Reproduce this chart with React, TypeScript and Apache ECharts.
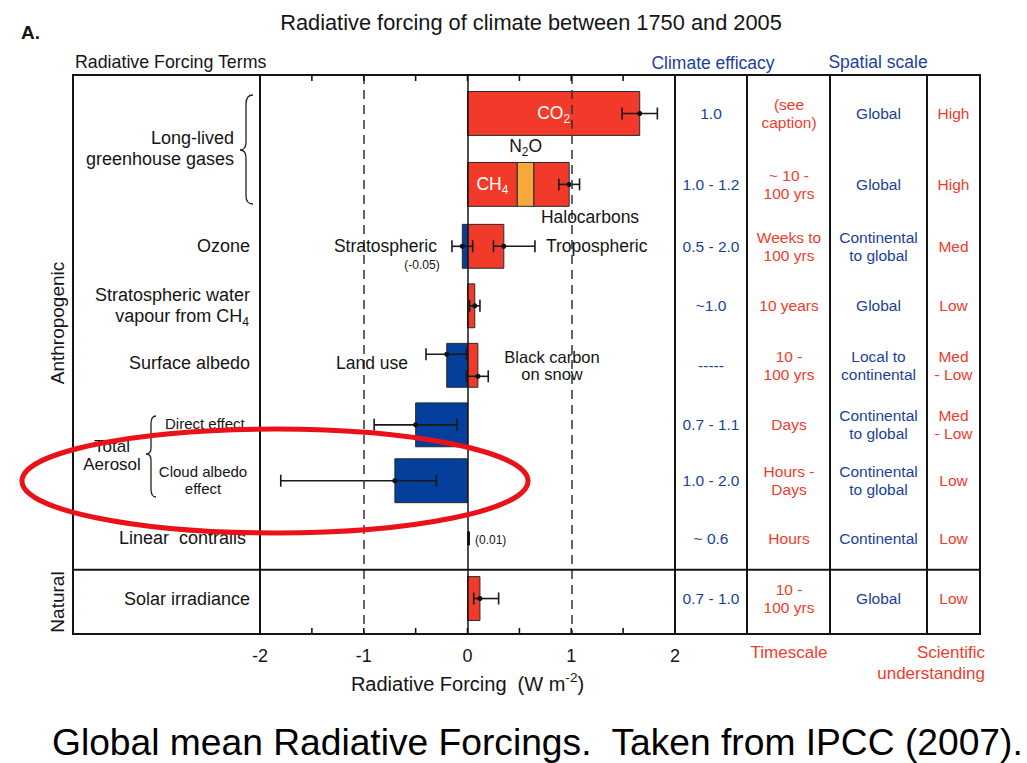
import React, { useEffect, useRef } from "react";
import * as echarts from "echarts";

const FONT = '"Liberation Sans", Arial, Helvetica, sans-serif';

// ---- data ----
const rowNames = [
  "CO2",
  "CH4 / N2O / Halocarbons",
  "Ozone",
  "Stratospheric water vapour from CH4",
  "Surface albedo",
  "Aerosol direct effect",
  "Cloud albedo effect",
  "Linear contrails",
  "Solar irradiance",
];
// position of each row on the (hidden, inverted) vertical axis
const rowPosition = [0.64, 1.82, 2.85, 3.84, 4.83, 5.82, 6.75, 7.71, 8.71];
const naturalBoundary = 8.23;

const components = [
  "CO2", "CH4", "N2O", "Halocarbons", "Stratospheric ozone", "Tropospheric ozone",
  "Stratospheric water vapour", "Land use", "Black carbon on snow",
  "Direct effect", "Cloud albedo effect", "Linear contrails", "Solar irradiance",
];
const componentRow = [0, 1, 1, 1, 2, 2, 3, 4, 4, 5, 6, 7, 8];
const barFrom = [0, 0, 0.48, 0.64, 0, 0, 0, 0, 0, 0, 0, 0, 0];
const barTo = [1.66, 0.48, 0.64, 0.98, -0.05, 0.35, 0.07, -0.2, 0.1, -0.5, -0.7, 0.01, 0.12];
const errLow: (number | null)[] = [1.49, null, null, 0.88, -0.15, 0.25, 0.02, -0.4, -0.01, -0.9, -1.8, null, 0.06];
const errHigh: (number | null)[] = [1.83, null, null, 1.08, 0.05, 0.65, 0.12, -0.01, 0.2, -0.1, -0.3, null, 0.3];
const errLane = [0, 0, 0, 0, 0, 0, 0, -1, 1, 0, 0, 0, 0];
const barKind = ["warm", "warm", "n2o", "warm", "cool", "warm", "warm", "cool", "warm", "cool", "cool", "thin", "warm"];

const xTicks = [-2, -1, 0, 1, 2];
const xMinorTicks = [-2, -1.5, -1, -0.5, 0, 0.5, 1, 1.5, 2];

const efficacy = ["1.0", "1.0 - 1.2", "0.5 - 2.0", "~1.0", "-----", "0.7 - 1.1", "1.0 - 2.0", "~ 0.6", "0.7 - 1.0"];
const timescale = ["(see\ncaption)", "~ 10 -\n100 yrs", "Weeks to\n100 yrs", "10 years", "10 -\n100 yrs", "Days", "Hours -\nDays", "Hours", "10 -\n100 yrs"];
const spatial = ["Global", "Global", "Continental\nto global", "Global", "Local to\ncontinental", "Continental\nto global", "Continental\nto global", "Continental", "Global"];
const understanding = ["High", "High", "Med", "Low", "Med\n- Low", "Med\n- Low", "Low", "Low", "Low"];

// ---- styles ----
const RED = "#f23a2a";
const BLUE = "#033f9b";
const ORANGE = "#f6a83a";
const TXT_BLUE = "#1b3f99";
const TXT_RED = "#f23b2c";
const INK = "#151515";

const kindColor: Record<string, string> = { warm: RED, cool: BLUE, n2o: ORANGE, thin: INK };

echarts.graphic.registerShape(
  "braceGhg",
  echarts.graphic.extendPath(
    "M253,95 C248,95 246,98 246,104 L246,142 C246,147 244,150 240,150 C244,150 246,153 246,158 L246,196 C246,201 248,204 253,204",
    {}
  )
);
echarts.graphic.registerShape(
  "braceAer",
  echarts.graphic.extendPath(
    "M156,416 C152,416 151,419 151,424 L151,448 C151,452 150,454 146,454 C150,454 151,456 151,460 L151,489 C151,494 152,497 156,497",
    {}
  )
);

let measureCtx: CanvasRenderingContext2D | null = null;
function measure(text: string, size: number, weight = "normal") {
  if (!measureCtx) measureCtx = document.createElement("canvas").getContext("2d");
  measureCtx!.font = `${weight} ${size}px ${FONT}`;
  return measureCtx!.measureText(text).width;
}

type TOpt = { size?: number; color?: string; align?: string; weight?: string; lineHeight?: number; rotation?: number; z?: number };
function txt(x: number, y: number, text: string, o: TOpt = {}) {
  const size = o.size ?? 17;
  return {
    type: "text",
    x,
    y,
    rotation: o.rotation ?? 0,
    z: o.z ?? 50,
    silent: true,
    style: {
      text,
      fill: o.color ?? INK,
      fontSize: size,
      fontFamily: FONT,
      fontWeight: o.weight ?? "normal",
      align: o.align ?? "center",
      textAlign: o.align ?? "center",
      verticalAlign: "middle",
      textVerticalAlign: "middle",
      lineHeight: o.lineHeight ?? Math.round(size * 1.1),
    },
  };
}

// parts: [text, mode] with mode "" | "sub" | "sup"
function richLine(x: number, y: number, parts: [string, string][], o: TOpt = {}) {
  const size = o.size ?? 17;
  const small = size * 0.68;
  const widths = parts.map(([t, m]) => measure(t, m ? small : size, o.weight ?? "normal"));
  const total = widths.reduce((a, b) => a + b, 0);
  const align = o.align ?? "center";
  let cx = align === "center" ? x - total / 2 : align === "right" ? x - total : x;
  const els: any[] = [];
  parts.forEach(([t, m], i) => {
    const dy = m === "sub" ? size * 0.32 : m === "sup" ? -size * 0.33 : 0;
    els.push(txt(cx, y + dy, t, { ...o, size: m ? small : size, align: "left" }));
    cx += widths[i];
  });
  return els;
}

export default function App() {
  const ref = useRef<HTMLDivElement>(null);

  useEffect(() => {
    document.body.style.margin = "0";
    const chart = echarts.init(ref.current!, null, { renderer: "svg" });

    const barData = components.map((c, i) => ({
      name: c,
      value: [barFrom[i], barTo[i], rowPosition[componentRow[i]]],
    }));
    const errData: any[] = [];
    components.forEach((c, i) => {
      if (errLow[i] !== null && errHigh[i] !== null) {
        errData.push({ name: c, value: [errLow[i], errHigh[i], rowPosition[componentRow[i]], barTo[i], errLane[i]] });
      }
    });

    const axisCommon = {
      type: "value",
      min: xTicks[0],
      max: xTicks[xTicks.length - 1],
      interval: 1,
      axisLine: { show: false },
      splitLine: { show: false },
      axisTick: { show: false },
      minorTick: { show: false },
      minorSplitLine: { show: false },
    };

    const option: any = {
      animation: false,
      backgroundColor: "#ffffff",
      grid: { left: 260, right: 352, top: 75, bottom: 129, show: false },
      xAxis: [
        {
          ...axisCommon,
          position: "bottom",
          axisLabel: { show: true, fontSize: 18, color: INK, fontFamily: FONT, margin: 13 },
        },
        {
          ...axisCommon,
          position: "top",
          axisLabel: { show: false },
        },
      ],
      yAxis: { type: "value", min: 0, max: 9.3, inverse: true, show: false },
      series: [
        {
          type: "custom",
          name: "reference lines",
          z: 1,
          data: [[0, 0]],
          renderItem: () => null,
          markLine: {
            silent: true,
            symbol: ["none", "none"],
            label: { show: false },
            data: [
              { xAxis: -1, lineStyle: { type: [9, 6], color: "#333", width: 1.5 } },
              { xAxis: 1, lineStyle: { type: [9, 6], color: "#333", width: 1.5 } },
              { xAxis: 0, lineStyle: { type: "solid", color: INK, width: 1.5 } },
            ],
          },
        },
        {
          type: "custom",
          name: "forcing",
          z: 3,
          encode: { x: [0, 1], y: 2 },
          data: barData,
          renderItem: (params: any, api: any) => {
            const kind = barKind[params.dataIndex];
            const row = api.value(2);
            const a = api.coord([api.value(0), row]);
            const b = api.coord([api.value(1), row]);
            const thick = kind === "thin" ? 0.22 : 0.73;
            const h = api.size([0, thick])[1];
            const x0 = Math.min(a[0], b[0]);
            const w = Math.max(Math.abs(b[0] - a[0]), kind === "thin" ? 2 : 0);
            return {
              type: "rect",
              shape: { x: x0, y: a[1] - h / 2, width: w, height: h },
              style: {
                fill: kindColor[kind],
                stroke: kind === "thin" ? INK : "#2b2b2b",
                lineWidth: 1,
              },
            };
          },
        },
        {
          type: "custom",
          name: "uncertainty",
          z: 4,
          encode: { x: [0, 1], y: 2 },
          data: errData,
          renderItem: (params: any, api: any) => {
            const row = api.value(2);
            const lane = api.value(4);
            const a = api.coord([api.value(0), row]);
            const b = api.coord([api.value(1), row]);
            const d = api.coord([api.value(3), row]);
            const y = a[1] + lane * 11;
            const cap = 6;
            const ls = { stroke: "#1a1a1a", lineWidth: 1.6 };
            return {
              type: "group",
              children: [
                { type: "line", shape: { x1: a[0], y1: y, x2: b[0], y2: y }, style: ls },
                { type: "line", shape: { x1: a[0], y1: y - cap, x2: a[0], y2: y + cap }, style: ls },
                { type: "line", shape: { x1: b[0], y1: y - cap, x2: b[0], y2: y + cap }, style: ls },
                { type: "circle", shape: { cx: d[0], cy: y, r: 2.6 }, style: { fill: "#111" } },
              ],
            };
          },
        },
      ],
    };
    chart.setOption(option);

    const Y = (r: number) => chart.convertToPixel({ yAxisIndex: 0 }, rowPosition[r]) as number;
    const X = (v: number) => chart.convertToPixel({ xAxisIndex: 0 }, v) as number;
    const ySep = chart.convertToPixel({ yAxisIndex: 0 }, naturalBoundary) as number;
    const top = 75;
    const bottom = 634;

    const g: any[] = [];
    const lineStyle = { stroke: INK, lineWidth: 2 };
    // frame
    g.push({ type: "rect", z: 40, silent: true, shape: { x: 73, y: top, width: 907, height: bottom - top }, style: { fill: "none", ...lineStyle } });
    [X(-2), X(2), 747, 830, 927].forEach((x) =>
      g.push({ type: "line", z: 40, silent: true, shape: { x1: x, y1: top, x2: x, y2: bottom }, style: lineStyle })
    );
    g.push({ type: "line", z: 40, silent: true, shape: { x1: 73, y1: ySep, x2: 980, y2: ySep }, style: lineStyle });
    // inward ticks every 0.5 on top and bottom edges of the plot
    xMinorTicks.forEach((v) => {
      const x = X(v);
      g.push({ type: "line", z: 40, silent: true, shape: { x1: x, y1: top, x2: x, y2: top + 6 }, style: { stroke: INK, lineWidth: 1.6 } });
      g.push({ type: "line", z: 40, silent: true, shape: { x1: x, y1: bottom, x2: x, y2: bottom - 6 }, style: { stroke: INK, lineWidth: 1.6 } });
    });

    // headers
    g.push(txt(21, 32, "A.", { size: 19, weight: "bold", align: "left" }));
    g.push(txt(531, 22, "Radiative forcing of climate between 1750 and 2005", { size: 21.8 }));
    g.push(txt(75, 62, "Radiative Forcing Terms", { size: 17.8, align: "left" }));
    g.push(txt(713, 63, "Climate efficacy", { size: 17.5, color: TXT_BLUE }));
    g.push(txt(878, 62, "Spatial scale", { size: 17.5, color: TXT_BLUE }));

    // side group labels
    g.push(txt(57, 323, "Anthropogenic", { size: 19, rotation: Math.PI / 2 }));
    g.push(txt(57, 602, "Natural", { size: 19, rotation: Math.PI / 2 }));

    // left term labels
    const L = 18;
    g.push(txt(234, Y(0) + 25, "Long-lived", { size: L, align: "right" }));
    g.push(txt(234, Y(0) + 46, "greenhouse gases", { size: L, align: "right" }));
    g.push({ type: "braceGhg", z: 40, silent: true, style: { fill: "none", stroke: "#222", lineWidth: 1.3 } });
    g.push(txt(250, Y(2), "Ozone", { size: L, align: "right" }));
    g.push(txt(250, Y(3) - 11, "Stratospheric water", { size: L, align: "right" }));
    g.push(...richLine(249, Y(3) + 10, [["vapour from CH", ""], ["4", "sub"]], { size: L, align: "right" }));
    g.push(txt(250, Y(4) - 2, "Surface albedo", { size: L, align: "right" }));
    g.push(txt(165, Y(5) - 1, "Direct effect", { size: 15, align: "left" }));
    g.push(txt(203, Y(6) - 9, "Cloud albedo", { size: 15 }));
    g.push(txt(203, Y(6) + 8, "effect", { size: 15 }));
    g.push({ type: "braceAer", z: 40, silent: true, style: { fill: "none", stroke: "#222", lineWidth: 1.3 } });
    g.push(txt(112, 446, "Total", { size: 17 }));
    g.push(txt(112, 464, "Aerosol", { size: 17 }));
    g.push(txt(246, Y(7), "Linear  contrails", { size: L, align: "right" }));
    g.push(txt(250, Y(8), "Solar irradiance", { size: L, align: "right" }));

    // labels inside the plot
    g.push(...richLine((X(0) + X(1.66)) / 2, Y(0), [["CO", ""], ["2", "sub"]], { size: 17.5, color: "#ffffff", z: 60 }));
    g.push(...richLine((X(0) + X(0.48)) / 2, Y(1), [["CH", ""], ["4", "sub"]], { size: 17.5, color: "#ffffff", z: 60 }));
    g.push(...richLine(X(0.56), Y(1) - 38, [["N", ""], ["2", "sub"], ["O", ""]], { size: 17.5 }));
    g.push(txt(590, Y(1) + 33, "Halocarbons", { size: 17.5 }));
    g.push(txt(437, Y(2), "Stratospheric", { size: 17.5, align: "right" }));
    g.push(txt(422, Y(2) + 19, "(-0.05)", { size: 12 }));
    g.push(txt(546, Y(2), "Tropospheric", { size: 17.5, align: "left" }));
    g.push(txt(372, Y(4) - 2, "Land use", { size: 17.5 }));
    g.push(txt(552, Y(4) - 8, "Black carbon", { size: 16.5, lineHeight: 16 }));
    g.push(txt(552, Y(4) + 9, "on snow", { size: 16.5, lineHeight: 16 }));
    g.push(txt(475, Y(7) + 2, "(0.01)", { size: 12, align: "left" }));

    // table columns
    const colX = [711, 789, 878.5, 953.5];
    const T = 15.5;
    rowPosition.forEach((_, r) => {
      const y = Y(r);
      g.push(txt(colX[0], y, efficacy[r], { size: T, color: TXT_BLUE }));
      g.push(txt(colX[1], y, timescale[r], { size: T, color: TXT_RED, lineHeight: 18 }));
      g.push(txt(colX[2], y, spatial[r], { size: T, color: TXT_BLUE, lineHeight: 18 }));
      g.push(txt(colX[3], y, understanding[r], { size: T, color: TXT_RED, lineHeight: 18 }));
    });

    // bottom labels
    g.push(...richLine(X(0), 684, [["Radiative Forcing  (W m", ""], ["-2", "sup"], [")", ""]], { size: 20 }));
    g.push(txt(789, 652, "Timescale", { size: 17, color: TXT_RED }));
    g.push(txt(985, 652, "Scientific", { size: 17, color: TXT_RED, align: "right" }));
    g.push(txt(985, 673, "understanding", { size: 17, color: TXT_RED, align: "right" }));

    // caption
    g.push(txt(52, 742, "Global mean Radiative Forcings.  Taken from IPCC (2007).", { size: 37.2, align: "left", color: "#000" }));

    // red annotation ellipse
    g.push({
      type: "ellipse",
      z: 100,
      silent: true,
      shape: { cx: 275, cy: 481, rx: 253, ry: 52 },
      style: { fill: "none", stroke: "#ea1218", lineWidth: 5 },
    });

    chart.setOption({ graphic: { elements: g } });

    return () => chart.dispose();
  }, []);

  return <div ref={ref} style={{ width: 1027, height: 763 }} />;
}
